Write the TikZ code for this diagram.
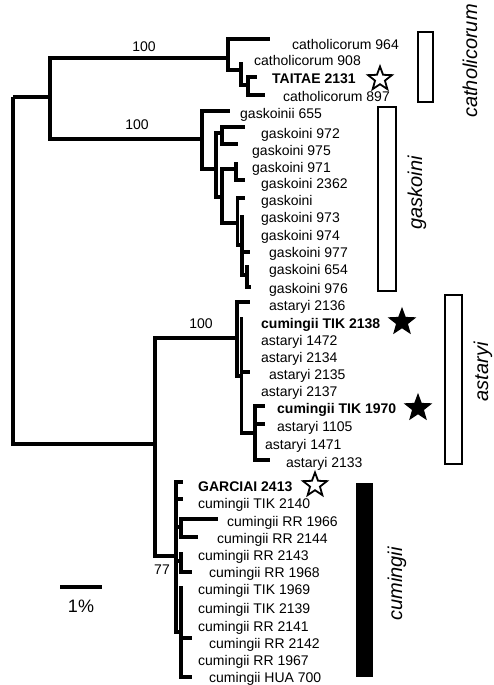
\documentclass[tikz,border=0pt]{standalone}
\usepackage{fontspec}
\setmainfont{Liberation Sans}
\usetikzlibrary{shapes.geometric}
\begin{document}
\begin{tikzpicture}[x=1pt,y=-1pt,
  br/.style={line width=3.6pt,line join=miter},
  lab/.style={anchor=base west,inner sep=0pt,font=\fontsize{14}{14}\selectfont},
  blab/.style={anchor=base west,inner sep=0pt,font=\fontsize{14}{14}\selectfont\bfseries},
  boot/.style={inner sep=0pt,font=\fontsize{14}{14}\selectfont},
  clade/.style={rotate=90,inner sep=0pt,font=\fontsize{20}{20}\selectfont\itshape},
  openstar/.style={star,star points=5,star point ratio=2.4,minimum size=25pt,inner sep=0pt,draw,line width=1.8pt,fill=white},
  fullstar/.style={openstar,fill=black},
  bar/.style={draw,line width=2pt}]
\useasboundingbox (0,0) rectangle (493,685);

% internal nodes
\coordinate (R) at (13,97);
\coordinate (CG) at (50,97);
\coordinate (C0) at (228,58);
\coordinate (C1) at (241,70);
\coordinate (C2) at (248,85);
\coordinate (G0) at (202,139);
\coordinate (G1) at (216,169);
\coordinate (G2) at (222,133);
\coordinate (G3) at (222,197);
\coordinate (G4) at (236,169);
\coordinate (G5) at (237.5,223);
\coordinate (G6) at (242,245);
\coordinate (G7) at (247,275);
\coordinate (AC) at (155,444);
\coordinate (A0) at (236.7,338);
\coordinate (A1) at (241.5,376);
\coordinate (A2) at (255,433);
\coordinate (K0) at (176,556);
\coordinate (Kb) at (181,527);
\coordinate (Kc) at (181,561);
\coordinate (Kd) at (181,632);
% tips
\coordinate (t964) at (270,39);
\coordinate (t908) at (241,62);
\coordinate (tTAI) at (257,77);
\coordinate (t897) at (265,95);
\coordinate (t655) at (230,111);
\coordinate (t972) at (245,127);
\coordinate (t975) at (238,144);
\coordinate (t971) at (236,162);
\coordinate (t2362) at (245,180);
\coordinate (tgas) at (245,198);
\coordinate (t973) at (242,215);
\coordinate (t977) at (250,252);
\coordinate (t654) at (247,265);
\coordinate (t976) at (251,287);
\coordinate (t2136) at (250,302);
\coordinate (t2138) at (241.5,317);
\coordinate (t2135) at (250,372);
\coordinate (t1970) at (265,406);
\coordinate (t1105) at (265,424);
\coordinate (t2133) at (270,460);
\coordinate (tGAR) at (183,482);
\coordinate (t2140) at (183,499);
\coordinate (t1966) at (218,519);
\coordinate (t2144) at (198,537);
\coordinate (t2143) at (181,552);
\coordinate (t1968) at (192,572);
\coordinate (t1969) at (181,586);
\coordinate (t2142) at (192,638);
\coordinate (tHUA) at (192,677);

\draw[br] (R) |- (CG) (R) |- (AC)
  (CG) |- (C0) (CG) |- (G0)
  (C0) |- (t964) (C0) |- (C1)
  (C1) |- (t908) (C1) |- (C2)
  (C2) |- (tTAI) (C2) |- (t897)
  (G0) |- (t655) (G0) |- (G1)
  (G1) |- (G2) (G1) |- (G3)
  (G2) |- (t972) (G2) |- (t975)
  (G3) |- (G4) (G3) |- (G5)
  (G4) |- (t971) (G4) |- (t2362)
  (G5) |- (tgas) (G5) |- (G6)
  (G6) |- (t973) (G6) |- (t977) (G6) |- (G7)
  (G7) |- (t654) (G7) |- (t976)
  (AC) |- (A0) (AC) |- (K0)
  (A0) |- (t2136) (A0) |- (A1)
  (A1) |- (t2138) (A1) |- (t2135) (A1) |- (A2)
  (A2) |- (t1970) (A2) |- (t1105) (A2) |- (t2133)
  (K0) |- (tGAR) (K0) |- (t2140) (K0) |- (Kb) (K0) |- (Kc) (K0) |- (Kd)
  (Kb) |- (t1966) (Kb) |- (t2144)
  (Kc) |- (t2143) (Kc) |- (t1968)
  (Kd) |- (t1969) (Kd) |- (t2142) (Kd) |- (tHUA);

% bootstrap
\node[boot] (b1) at (144,47) {100};
\node[boot] (b2) at (137,125) {100};
\node[boot] (b3) at (201,324) {100};
\node[boot] (b4) at (162,570) {77};

% labels
\node[lab]  (l1)  at (292,50)  {catholicorum 964};
\node[lab]  (l2)  at (254,66)  {catholicorum 908};
\node[blab] (l3)  at (272,84)  {TAITAE 2131};
\node[lab]  (l4)  at (283,101) {catholicorum 897};
\node[lab]  (l5)  at (240,118) {gaskoinii 655};
\node[lab]  (l6)  at (261,138) {gaskoini 972};
\node[lab]  (l7)  at (252,155) {gaskoini 975};
\node[lab]  (l8)  at (252,172) {gaskoini 971};
\node[lab]  (l9)  at (261,188) {gaskoini 2362};
\node[lab]  (l10) at (261,205) {gaskoini};
\node[lab]  (l11) at (261,222) {gaskoini 973};
\node[lab]  (l12) at (261,240) {gaskoini 974};
\node[lab]  (l13) at (269,257) {gaskoini 977};
\node[lab]  (l14) at (269,274) {gaskoini 654};
\node[lab]  (l15) at (269,293) {gaskoini 976};
\node[lab]  (l16) at (269,310) {astaryi 2136};
\node[blab] (l17) at (261,328) {cumingii TIK 2138};
\node[lab]  (l18) at (261,345) {astaryi 1472};
\node[lab]  (l19) at (261,362) {astaryi 2134};
\node[lab]  (l20) at (269,379) {astaryi 2135};
\node[lab]  (l21) at (261,396) {astaryi 2137};
\node[blab] (l22) at (277,413) {cumingii TIK 1970};
\node[lab]  (l23) at (277,431) {astaryi 1105};
\node[lab]  (l24) at (265,449) {astaryi 1471};
\node[lab]  (l25) at (286,467) {astaryi 2133};
\node[blab] (l26) at (198,491) {GARCIAI 2413};
\node[lab]  (l27) at (198,508) {cumingii TIK 2140};
\node[lab]  (l28) at (227,526) {cumingii RR 1966};
\node[lab]  (l29) at (217,543) {cumingii RR 2144};
\node[lab]  (l30) at (198,560) {cumingii RR 2143};
\node[lab]  (l31) at (209,577) {cumingii RR 1968};
\node[lab]  (l32) at (198,594) {cumingii TIK 1969};
\node[lab]  (l33) at (198,613) {cumingii TIK 2139};
\node[lab]  (l34) at (198,631) {cumingii RR 2141};
\node[lab]  (l35) at (209,648) {cumingii RR 2142};
\node[lab]  (l36) at (198,665) {cumingii RR 1967};
\node[lab]  (l37) at (209,682) {cumingii HUA 700};

% stars
\node[openstar] (s1) at (380,79) {};
\node[fullstar] (s2) at (402,322) {};
\node[fullstar] (s3) at (418,408) {};
\node[openstar] (s4) at (315,485) {};

% clade bars
\draw[bar] (418,32) rectangle (433,102);
\draw[bar] (378,107) rectangle (396,291);
\draw[bar] (445,295) rectangle (462,464);
\fill (356,483) rectangle (373,677);
\node[clade] (n1) at (470,61) {catholicorum};
\node[clade] (n2) at (417,193) {gaskoini};
\node[clade] (n3) at (483,372) {astaryi};
\node[clade] (n4) at (397,584) {cumingii};

% scale bar
\coordinate (sb1) at (60,587);
\coordinate (sb2) at (102,587);
\draw[line width=4pt] (sb1) -- (sb2);
\node[inner sep=0pt,font=\fontsize{18}{18}\selectfont] (sbl) at (81,606) {1\%};
\end{tikzpicture}
\end{document}
